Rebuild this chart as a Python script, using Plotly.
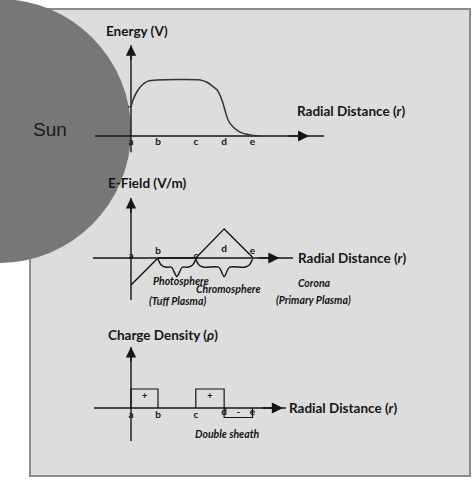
import plotly.graph_objects as go

W, H = 474, 480

# radial reference points along r
r_labels = ["a", "b", "c", "d", "e"]
r_pos = [0, 1, 2.4, 3.45, 4.5]

# energy V(r)
energy_r = [0, 0.07, 0.22, 0.41, 0.63, 0.96, 2.56, 2.81, 3.19, 3.37, 3.48, 3.59, 3.78, 4.04, 4.41, 4.78]
energy_v = [0.52, 0.64, 0.79, 0.91, 0.98, 1.0, 1.0, 0.96, 0.82, 0.64, 0.46, 0.29, 0.16, 0.07, 0.02, 0]

# E-field E(r)
efield_r = [0, 1, 2.4, 3.45, 4.5]
efield_v = [-0.96, 0, 0, 1.04, 0.03]

# charge density blocks (from, to, value, sign)
charge_from = ["a", "c", "d"]
charge_to = ["b", "d", "e"]
charge_val = [1, 1, -0.5]
charge_sign = ["+", "+", "-"]

# braces under the E-field axis
brace_from = ["b", "c"]
brace_to = ["c", "e"]

# label heights of the a..e letters in each panel
energy_lbl_v = [-0.11, -0.11, -0.11, -0.11, -0.11]
efield_lbl_v = [0.07, 0.25, 0.07, 0.32, 0.25]
charge_lbl_v = [-0.37, -0.42, -0.37, -0.26, -0.26]

# axis extents [xmin, xmax, ymin, ymax, arrow tip]
energy_ax = [-1.33, 7.15, -0.29, 1.62, 6.6]
efield_ax = [-1.41, 6.0, -1.5, 2.14, 5.5]
charge_ax = [-1.37, 5.74, -1.74, 3.21, 5.63]

pos = dict(zip(r_labels, r_pos))

# pixel anchors for the hidden axes
X0, XS = 131, 27.0
panels = {"y": (136, 56.0), "y2": (258, 28.0), "y3": (408, 19.0)}

def px(x):
    return x / W

def py(y):
    return 1 - y / H

INK = "#151515"
FONT = "Lato"

fig = go.Figure()

def draw_axes(yref, ext):
    fig.add_trace(go.Scatter(x=[ext[0], ext[1]], y=[0, 0], yaxis=yref, mode="lines",
                             line=dict(color=INK, width=1.4), hoverinfo="skip"))
    fig.add_trace(go.Scatter(x=[0, 0], y=[ext[2], ext[3]], yaxis=yref, mode="lines",
                             line=dict(color=INK, width=1.4), hoverinfo="skip"))
    fig.add_annotation(x=ext[4], y=0, xref="x", yref=yref, ax=-22, ay=0, text="",
                       showarrow=True, arrowhead=2, arrowsize=1.4, arrowwidth=1.6, arrowcolor=INK)
    fig.add_annotation(x=0, y=ext[3], xref="x", yref=yref, ax=0, ay=16, text="",
                       showarrow=True, arrowhead=2, arrowsize=1.3, arrowwidth=1.6, arrowcolor=INK)

def letters(yref, vals):
    fig.add_trace(go.Scatter(x=r_pos, y=vals, yaxis=yref, mode="text", text=r_labels,
                             textfont=dict(family=FONT, size=10, color=INK, weight="bold"),
                             hoverinfo="skip"))

# energy panel
draw_axes("y", energy_ax)
fig.add_trace(go.Scatter(x=[-0.12, 0], y=[0.52, 0.52], yaxis="y", mode="lines",
                         line=dict(color="#333", width=1.3), hoverinfo="skip"))
fig.add_trace(go.Scatter(x=energy_r, y=energy_v, yaxis="y", mode="lines",
                         line=dict(color="#333", width=1.5, shape="spline", smoothing=0.6),
                         hoverinfo="skip"))
letters("y", energy_lbl_v)

# E-field panel
draw_axes("y2", efield_ax)
fig.add_trace(go.Scatter(x=efield_r, y=efield_v, yaxis="y2", mode="lines",
                         line=dict(color=INK, width=1.4), hoverinfo="skip"))
for f, t in zip(brace_from, brace_to):
    u0, u1 = pos[f], pos[t]
    um = (u0 + u1) / 2
    bx = [u0, u0 + 0.12, u0 + 0.3, um - 0.2, um, um + 0.2, u1 - 0.3, u1 - 0.12, u1]
    by = [-0.04, -0.25, -0.33, -0.33, -0.66, -0.33, -0.33, -0.25, -0.04]
    fig.add_trace(go.Scatter(x=bx, y=by, yaxis="y2", mode="lines",
                             line=dict(color=INK, width=1.4, shape="spline", smoothing=0.8),
                             hoverinfo="skip"))
letters("y2", efield_lbl_v)

# charge density panel
draw_axes("y3", charge_ax)
for f, t, v, s in zip(charge_from, charge_to, charge_val, charge_sign):
    u0, u1 = pos[f], pos[t]
    fig.add_trace(go.Scatter(x=[u0, u0, u1, u1], y=[0, v, v, 0], yaxis="y3", mode="lines",
                             line=dict(color=INK, width=1.2), hoverinfo="skip"))
    fig.add_trace(go.Scatter(x=[(u0 + u1) / 2], y=[v / 2 + (0.08 if v > 0 else 0)], yaxis="y3",
                             mode="text", text=[s],
                             textfont=dict(family=FONT, size=9, color=INK, weight="bold"),
                             hoverinfo="skip"))
letters("y3", charge_lbl_v)

# panel background and sun
shapes = [
    dict(type="rect", xref="paper", yref="paper", x0=px(30), x1=px(470), y0=py(476), y1=py(9),
         fillcolor="#dddddd", line=dict(color="#8c8c8c", width=2), layer="below"),
    dict(type="circle", xref="paper", yref="paper", x0=px(-133), x1=px(131), y0=py(263), y1=py(-1),
         fillcolor="#777777", line=dict(width=0), layer="below"),
]

def label(text, x, y, size, anchor="center", bold=True, italic=False, family=FONT, color=INK):
    t = text
    if italic:
        t = "<i>" + t + "</i>"
    if bold:
        t = "<b>" + t + "</b>"
    fig.add_annotation(x=px(x), y=py(y), xref="paper", yref="paper", text=t, showarrow=False,
                       xanchor=anchor, yanchor="middle",
                       font=dict(family=family, size=size, color=color))

label("Sun", 31, 130, 19, anchor="left", bold=False, family="Liberation Sans", color="#1a1a1a")
label("Energy (V)", 104, 31, 13.5, anchor="left")
label("Radial Distance (<i>r</i>)", 295, 111, 13.5, anchor="left")
label("E-Field (V/m)", 106, 183, 13.5, anchor="left")
label("Radial Distance (<i>r</i>)", 296, 258, 13.5, anchor="left")
label("Photosphere", 181, 281, 10.5, italic=True)
label("Chromosphere", 228, 289, 10.5, italic=True)
label("(Tuff Plasma)", 177, 301, 10.5, italic=True)
label("Corona", 314, 283, 10.5, italic=True)
label("(Primary Plasma)", 313, 300, 10.5, italic=True)
label("Charge Density (<i>ρ</i>)", 106, 335, 13.5, anchor="left")
label("Radial Distance (<i>r</i>)", 287, 408, 13.5, anchor="left")
label("Double sheath", 227, 434, 10.5, italic=True)

layout_axes = {}
for name, (base, scale) in panels.items():
    key = "yaxis" if name == "y" else "yaxis" + name[1:]
    ax = dict(range=[(base - H) / scale, base / scale], domain=[0, 1], visible=False,
              fixedrange=True)
    if name != "y":
        ax["overlaying"] = "y"
    layout_axes[key] = ax

fig.update_layout(
    width=W, height=H,
    margin=dict(l=0, r=0, t=0, b=0),
    paper_bgcolor="white",
    plot_bgcolor="rgba(0,0,0,0)",
    showlegend=False,
    shapes=shapes,
    xaxis=dict(range=[-X0 / XS, (W - X0) / XS], domain=[0, 1], visible=False, fixedrange=True),
    **layout_axes,
)

# drop the default page margin so the figure sits at the window corner
fig.write_html("out.html", config={"displayModeBar": False},
               post_script="document.body.style.margin='0';")
